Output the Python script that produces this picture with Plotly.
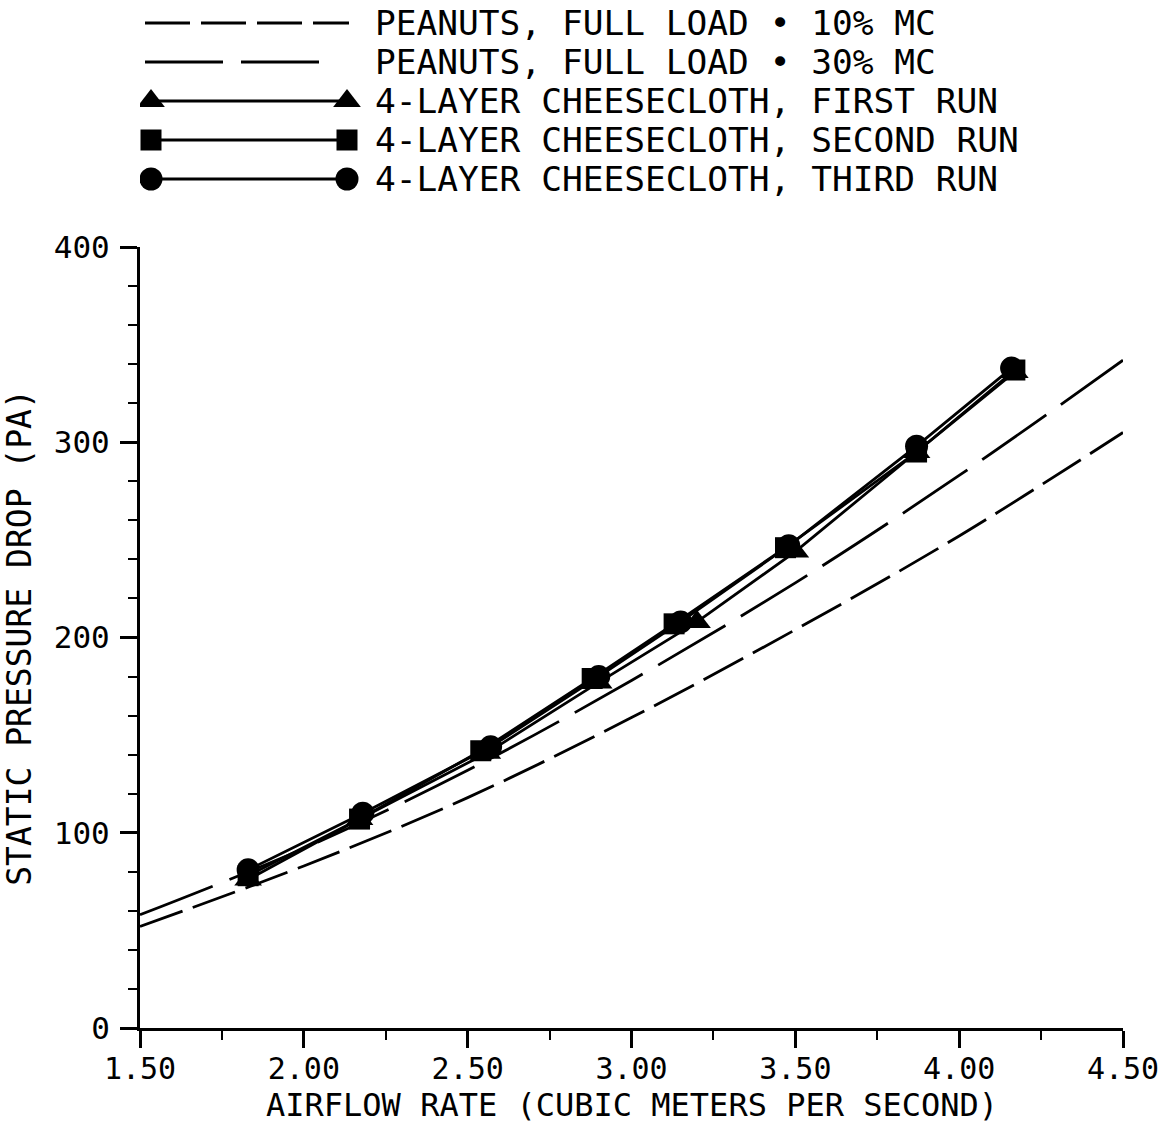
import plotly.graph_objects as go

# ---- data ----
x_curve = [1.5, 2.0, 2.5, 3.0, 3.5, 4.0, 4.5]
mc10 = [52, 83, 118, 159, 204, 252, 305]
mc30 = [58, 92, 132, 178, 228, 283, 342]

run1_x = [1.83, 2.17, 2.56, 2.90, 3.20, 3.50, 3.87, 4.17]
run1_y = [76, 107, 141, 177, 208, 244, 295, 336]
run2_x = [1.83, 2.17, 2.54, 2.88, 3.13, 3.47, 3.87, 4.17]
run2_y = [78, 107, 142, 179, 207, 246, 295, 337]
run3_x = [1.83, 2.18, 2.57, 2.90, 3.15, 3.48, 3.87, 4.16]
run3_y = [81, 110, 144, 180, 208, 247, 298, 338]

x_ticks = [1.5, 2.0, 2.5, 3.0, 3.5, 4.0, 4.5]
x_ticktext = ["1.50", "2.00", "2.50", "3.00", "3.50", "4.00", "4.50"]
y_ticks = [0, 100, 200, 300, 400]

x_title = "AIRFLOW RATE (CUBIC METERS PER SECOND)"
y_title = "STATIC PRESSURE DROP (PA)"
legend_labels = [
    "PEANUTS, FULL LOAD \u2022 10% MC",
    "PEANUTS, FULL LOAD \u2022 30% MC",
    "4-LAYER CHEESECLOTH, FIRST RUN",
    "4-LAYER CHEESECLOTH, SECOND RUN",
    "4-LAYER CHEESECLOTH, THIRD RUN",
]

FONT = "DejaVu Sans Mono"
SHORT_DASH = "45px,11px"
LONG_DASH = "78px,18px"

fig = go.Figure()

fig.add_trace(go.Scatter(x=x_curve, y=mc10, mode="lines",
                         line=dict(color="black", width=2.8, dash=SHORT_DASH, shape="spline"),
                         showlegend=False, hoverinfo="skip"))
fig.add_trace(go.Scatter(x=x_curve, y=mc30, mode="lines",
                         line=dict(color="black", width=2.8, dash=LONG_DASH, shape="spline"),
                         showlegend=False, hoverinfo="skip"))

runs = [
    (run1_x, run1_y, "triangle-up", 24),
    (run2_x, run2_y, "square", 21),
    (run3_x, run3_y, "circle", 23),
]
for rx, ry, sym, sz in runs:
    fig.add_trace(go.Scatter(x=rx, y=ry, mode="lines+markers",
                             line=dict(color="black", width=2.8),
                             marker=dict(symbol=sym, size=sz, color="black"),
                             showlegend=False))

# ---- custom legend on a hidden helper axis (pixel-like units) ----
row_y = [23, 62, 101, 140, 179]
sample_x0, sample_x1 = 151, 347
fig.add_trace(go.Scatter(x=[145, 349], y=[row_y[0]] * 2, xaxis="x2", yaxis="y2", mode="lines",
                         line=dict(color="black", width=2.8, dash=SHORT_DASH), showlegend=False,
                         hoverinfo="skip"))
fig.add_trace(go.Scatter(x=[145, 330], y=[row_y[1]] * 2, xaxis="x2", yaxis="y2", mode="lines",
                         line=dict(color="black", width=2.8, dash=LONG_DASH), showlegend=False,
                         hoverinfo="skip"))
for i, (rx, ry, sym, sz) in enumerate(runs):
    fig.add_trace(go.Scatter(x=[sample_x0, sample_x1], y=[row_y[i + 2]] * 2, xaxis="x2", yaxis="y2",
                             mode="lines+markers", line=dict(color="black", width=2.8),
                             marker=dict(symbol=sym, size=sz, color="black"),
                             showlegend=False, hoverinfo="skip"))

W, H = 1170, 1126
mt, mb, ml, mr = 0, 98, 140, 47
paper_h = H - mt - mb
plot_top = 247

annotations = []
for lab, yy in zip(legend_labels, row_y):
    annotations.append(dict(x=373, y=yy, xref="x2", yref="y2", text=lab, showarrow=False,
                            xanchor="left", yanchor="middle",
                            font=dict(family=FONT, size=34.5, color="black")))
# x-axis title placed below the tick labels
annotations.append(dict(x=0.5, y=(paper_h - 1105) / paper_h, xref="paper", yref="paper",
                        text=x_title, showarrow=False, xanchor="center", yanchor="middle",
                        font=dict(family=FONT, size=32, color="black")))

fig.update_layout(
    width=W, height=H,
    margin=dict(l=ml, r=mr, t=mt, b=mb, autoexpand=False),
    paper_bgcolor="white", plot_bgcolor="white",
    showlegend=False,
    font=dict(family=FONT, color="black"),
    annotations=annotations,
    xaxis=dict(
        range=[1.5, 4.5], domain=[0, 1], anchor="y", automargin=False,
        tickmode="array", tickvals=x_ticks, ticktext=x_ticktext,
        ticks="outside", ticklen=17, tickwidth=2.5, tickcolor="black",
        showline=True, linewidth=3, linecolor="black",
        showgrid=False, zeroline=False,
        minor=dict(tick0=1.5, dtick=0.25, ticks="outside", ticklen=9, tickwidth=2, tickcolor="black"),
        tickfont=dict(family=FONT, size=30, color="black"),
        ticklabelstandoff=-5,
    ),
    yaxis=dict(
        range=[0, 400], domain=[0, (paper_h - plot_top) / paper_h], anchor="x", automargin=False,
        tickmode="array", tickvals=y_ticks,
        ticks="outside", ticklen=17, tickwidth=2.5, tickcolor="black",
        showline=True, linewidth=3, linecolor="black",
        showgrid=False, zeroline=False,
        minor=dict(tick0=0, dtick=20, ticks="outside", ticklen=9, tickwidth=2, tickcolor="black"),
        tickfont=dict(family=FONT, size=31, color="black"),
        ticklabelstandoff=4,
        title=dict(text=y_title, standoff=14,
                   font=dict(family=FONT, size=33, color="black")),
    ),
    xaxis2=dict(range=[140, 1123], domain=[0, 1], anchor="y2", visible=False, fixedrange=True),
    yaxis2=dict(range=[205, 0], domain=[1 - 205 / paper_h, 1], anchor="x2", visible=False,
                fixedrange=True),
)

fig.write_html("out.html")
